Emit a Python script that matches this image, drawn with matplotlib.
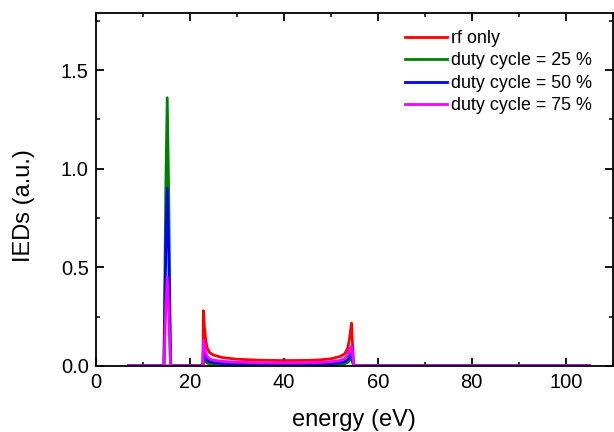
import matplotlib
matplotlib.use("Agg")
import matplotlib.pyplot as plt
from matplotlib.ticker import MultipleLocator, FormatStrFormatter

plt.rcParams['font.family'] = ['Liberation Sans', 'DejaVu Sans']

energy = [7.0, 14.3, 14.5, 14.9, 15.2, 15.5, 15.9, 16.1, 22.8, 22.9, 23.1, 23.4, 23.7, 24.2,
          25.0, 27.0, 30.0, 35.0, 40.0, 45.0, 48.0, 50.0, 52.0, 53.0, 53.6, 54.0,
          54.4, 54.6, 54.9, 105.0]

rf_only = [0, 0, 0, 0, 0, 0, 0, 0, 0, 0.28, 0.20, 0.13, 0.09, 0.068,
           0.055, 0.042, 0.034, 0.029, 0.027, 0.028, 0.031, 0.036, 0.048, 0.062, 0.09, 0.14,
           0.217, 0.12, 0, 0]
duty_25 = [0, 0, 0.0, 0.9, 1.36, 0.9, 0.0, 0, 0, 0.05, 0.035, 0.022, 0.015, 0.010,
           0.007, 0.005, 0.004, 0.003, 0.003, 0.003, 0.004, 0.005, 0.008, 0.012, 0.018, 0.03,
           0.04, 0.02, 0, 0]
duty_50 = [0, 0, 0.0, 0.6, 0.90, 0.6, 0.0, 0, 0, 0.08, 0.06, 0.04, 0.03, 0.022,
           0.017, 0.013, 0.010, 0.009, 0.008, 0.009, 0.010, 0.012, 0.016, 0.022, 0.032, 0.05,
           0.065, 0.035, 0, 0]
duty_75 = [0, 0, 0.0, 0.3, 0.45, 0.3, 0.0, 0, 0, 0.13, 0.10, 0.065, 0.048, 0.036,
           0.029, 0.023, 0.019, 0.016, 0.015, 0.016, 0.018, 0.021, 0.028, 0.038, 0.055, 0.08,
           0.10, 0.06, 0, 0]

series = [("rf only", rf_only, "#ff0000"),
          ("duty cycle = 25 %", duty_25, "#008000"),
          ("duty cycle = 50 %", duty_50, "#0000ff"),
          ("duty cycle = 75 %", duty_75, "#ff00ff")]

fig = plt.figure(figsize=(6.14, 4.32), dpi=100)
ax = fig.add_axes([0.156, 0.153, 0.842, 0.817])

for label, vals, color in series:
    ax.plot(energy, vals, color=color, lw=2.0, label=label)

ax.set_xlim(0, 110)
ax.set_ylim(0, 1.79)
ax.xaxis.set_major_locator(MultipleLocator(20))
ax.xaxis.set_minor_locator(MultipleLocator(10))
ax.yaxis.set_major_locator(MultipleLocator(0.5))
ax.yaxis.set_minor_locator(MultipleLocator(0.25))
ax.yaxis.set_major_formatter(FormatStrFormatter('%.1f'))
ax.tick_params(which='both', direction='in', top=True, right=True, labelsize=14.5, pad=5)
ax.tick_params(which='major', length=6, width=1.3)
ax.tick_params(which='minor', length=3, width=1.1)
for s in ax.spines.values():
    s.set_linewidth(1.3)

ax.set_xlabel("energy (eV)", fontsize=17, labelpad=12)
ax.set_ylabel("IEDs (a.u.)", fontsize=17)
ax.yaxis.set_label_coords(-0.118, 0.453)

ax.legend(loc='upper left', frameon=False, fontsize=12.85, handlelength=2.35,
          handletextpad=0.22, labelspacing=0.31, borderpad=0, borderaxespad=0,
          bbox_to_anchor=(0.6596, 0.931), bbox_transform=fig.transFigure)

fig.savefig("out.png", dpi=100)
